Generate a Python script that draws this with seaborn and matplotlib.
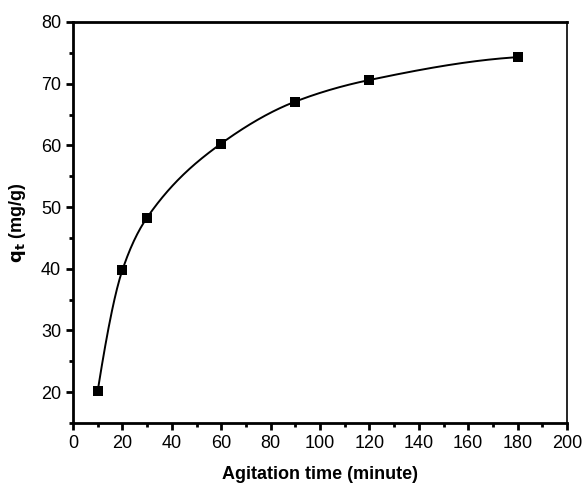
import numpy as np
import pandas as pd
import matplotlib
matplotlib.use("Agg")
import matplotlib.pyplot as plt
from matplotlib.ticker import MultipleLocator
import seaborn as sns

# Adsorption kinetics: uptake q_t versus agitation time
time_min = [10, 20, 30, 60, 90, 120, 180]
qt_mg_g = [20.2, 39.8, 48.3, 60.3, 67.1, 70.6, 74.3]

x_ticks = [0, 20, 40, 60, 80, 100, 120, 140, 160, 180, 200]
y_ticks = [20, 30, 40, 50, 60, 70, 80]


def pchip(x, y, xs):
    """Shape-preserving piecewise cubic Hermite curve through (x, y)."""
    x = np.asarray(x, float)
    y = np.asarray(y, float)
    n = len(x)
    h = np.diff(x)
    delta = np.diff(y) / h
    d = np.zeros(n)
    for k in range(1, n - 1):
        if delta[k - 1] * delta[k] > 0:
            w1 = 2 * h[k] + h[k - 1]
            w2 = h[k] + 2 * h[k - 1]
            d[k] = (w1 + w2) / (w1 / delta[k - 1] + w2 / delta[k])

    def end(h0, h1, d0, d1):
        s = ((2 * h0 + h1) * d0 - h0 * d1) / (h0 + h1)
        if np.sign(s) != np.sign(d0):
            s = 0.0
        elif np.sign(d0) != np.sign(d1) and abs(s) > abs(3 * d0):
            s = 3 * d0
        return s

    d[0] = end(h[0], h[1], delta[0], delta[1])
    d[-1] = end(h[-1], h[-2], delta[-1], delta[-2])

    idx = np.clip(np.searchsorted(x, xs) - 1, 0, n - 2)
    t = (xs - x[idx]) / h[idx]
    h00 = 2 * t ** 3 - 3 * t ** 2 + 1
    h10 = t ** 3 - 2 * t ** 2 + t
    h01 = -2 * t ** 3 + 3 * t ** 2
    h11 = t ** 3 - t ** 2
    return (h00 * y[idx] + h10 * h[idx] * d[idx]
            + h01 * y[idx + 1] + h11 * h[idx] * d[idx + 1])


df = pd.DataFrame({"t": time_min, "q": qt_mg_g})
t_fine = np.linspace(min(time_min), max(time_min), 500)
curve = pd.DataFrame({"t": t_fine, "q": pchip(time_min, qt_mg_g, t_fine)})

sns.set_style("ticks")
plt.rcParams["font.family"] = ["Liberation Sans", "DejaVu Sans"]

fig = plt.figure(figsize=(5.82, 4.86), dpi=100)
ax = fig.add_axes([73 / 582, 1 - 423 / 486, (567 - 73) / 582, (423 - 22) / 486])

sns.lineplot(data=curve, x="t", y="q", ax=ax, color="black", linewidth=1.4,
             estimator=None, sort=False)
sns.scatterplot(data=df, x="t", y="q", ax=ax, marker="s", color="black",
                s=45, edgecolor="black", linewidth=0, zorder=3)

ax.set_xlim(0, 200)
ax.set_ylim(15, 80)
ax.set_xticks(x_ticks)
ax.set_yticks(y_ticks)
ax.xaxis.set_minor_locator(MultipleLocator(10))
ax.yaxis.set_minor_locator(MultipleLocator(5))
ax.tick_params(which="major", direction="out", length=5, width=2,
               labelsize=13, colors="black", top=False, right=False)
ax.tick_params(which="minor", direction="out", length=3, width=2,
               colors="black", top=False, right=False)

for side in ["left", "bottom", "top"]:
    ax.spines[side].set_linewidth(2)
ax.spines["right"].set_linewidth(1.2)
for s in ax.spines.values():
    s.set_color("black")
    s.set_visible(True)

ax.set_xlabel("Agitation time (minute)", fontsize=13, fontweight="bold",
              labelpad=10, color="black")
ax.set_ylabel(r"$\mathbf{q_t}$ (mg/g)", fontsize=13, fontweight="bold",
              labelpad=9, color="black")

fig.savefig("out.png", dpi=100, facecolor="white")
